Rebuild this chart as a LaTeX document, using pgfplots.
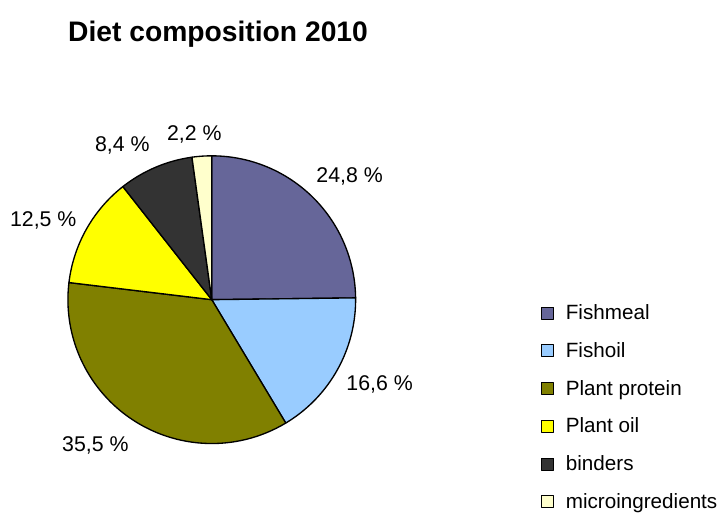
\documentclass[border=0pt]{standalone}
\usepackage{fontspec}
\setmainfont{Liberation Sans}
\usepackage{pgfplots}
\pgfplotsset{compat=1.18}
\definecolor{cFishmeal}{HTML}{666699}
\definecolor{cFishoil}{HTML}{99CCFF}
\definecolor{cProtein}{HTML}{808000}
\definecolor{cPlantoil}{HTML}{FFFF00}
\definecolor{cBinders}{HTML}{333333}
\definecolor{cMicro}{HTML}{FFFFCC}
% #1 cumulative share before the slice (%), #2 share (%), #3 colour, #4 name
\newcommand{\slice}[4]{%
  \addplot[draw=black, line width=1pt, line join=round, fill=#3,
    domain={90-3.6*(#1)}:{90-3.6*(#1+#2)}, samples=120]
    ({cos(x)},{sin(x)}) -- (axis cs:0,0) -- cycle;
  \addlegendentry{#4}
}
\begin{document}
\begin{tikzpicture}
\begin{axis}[
  hide axis, clip=false,
  x=108pt, y=108pt,
  xmin=-1.4722, xmax=3.5278, ymin=-1.4444, ymax=2.0833,
  legend image code/.code={\draw[#1,draw=black,line width=0.75pt] (0pt,-4.5pt) rectangle (9pt,4.5pt); \path (15.5pt,0pt);},
  legend cell align=left,
  legend style={draw=none, fill=none, inner sep=0pt, row sep=11.6pt,
    font=\fontsize{15.5}{18}\selectfont,
    at={(axis cs:2.2896,-0.0139)}, anchor=north west},
]
\path (rel axis cs:0,0) rectangle (rel axis cs:1,1);
\slice{0}{24.8}{cFishmeal}{Fishmeal}
\slice{24.8}{16.6}{cFishoil}{Fishoil}
\slice{41.4}{35.5}{cProtein}{Plant protein}
\slice{76.9}{12.5}{cPlantoil}{Plant oil}
\slice{89.4}{8.4}{cBinders}{binders}
\slice{97.8}{2.2}{cMicro}{microingredients}
\begin{scope}[every node/.style={font=\fontsize{16}{18}\selectfont, anchor=base, inner sep=0pt}]
\node at (axis cs:0.9583,0.8146) {24,8 \%};
\node at (axis cs:1.1667,-0.6296) {16,6 \%};
\node at (axis cs:-0.809,-1.0579) {35,5 \%};
\node at (axis cs:-1.1715,0.509) {12,5 \%};
\node at (axis cs:-0.6215,1.030) {8,4 \%};
\node at (axis cs:-0.1215,1.106) {2,2 \%};
\end{scope}
\node[anchor=base west, inner sep=0pt, font=\fontsize{21.2}{24}\selectfont\bfseries] at (axis cs:-1.0,1.7917) {Diet composition 2010};
\end{axis}
\end{tikzpicture}
\end{document}
